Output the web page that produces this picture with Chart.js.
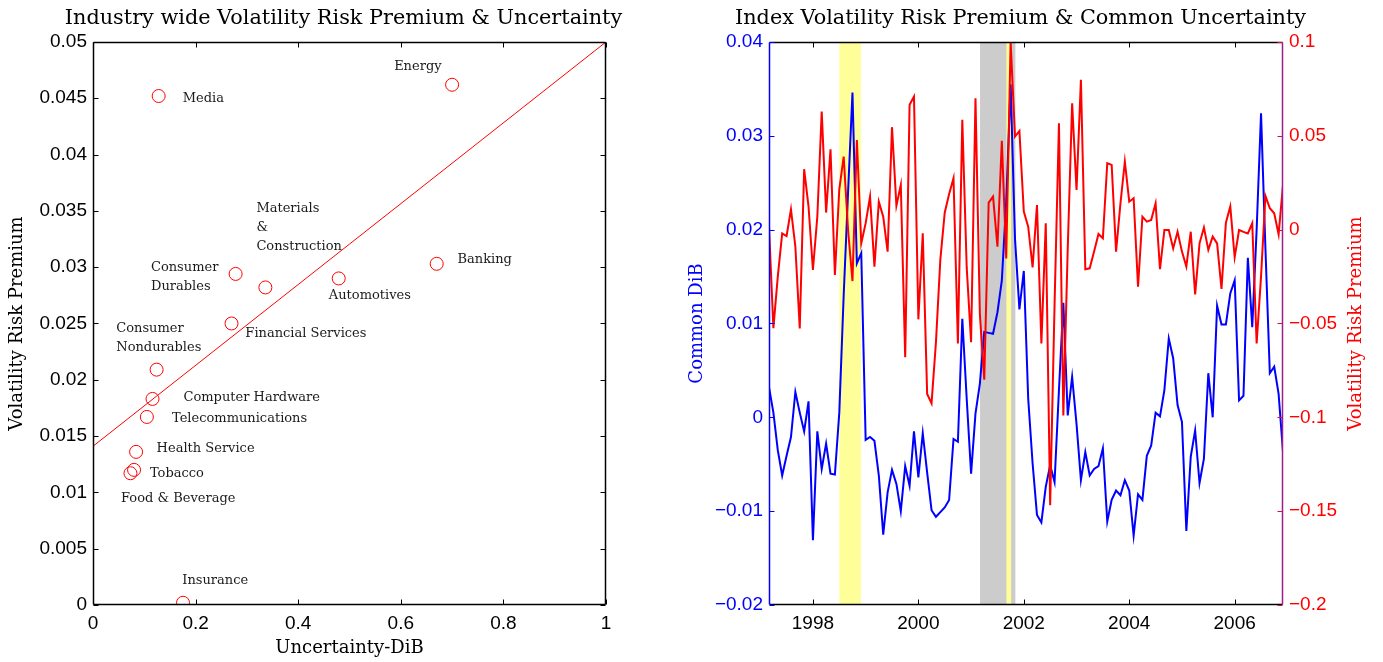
<!DOCTYPE html>
<html>
<head>
<meta charset="utf-8">
<script src="https://cdn.jsdelivr.net/npm/chart.js@4.4.1/dist/chart.umd.min.js"></script>
<style>
  html, body { margin: 0; padding: 0; background: #fff; }
  #wrap { position: relative; width: 1383px; height: 662px; }
  canvas { position: absolute; top: 0; }
  #left { left: 0; }
  #right { left: 680px; }
</style>
</head>
<body>
<div id="wrap">
  <canvas id="left" width="690" height="662"></canvas>
  <canvas id="right" width="703" height="662"></canvas>
</div>
<script>
// ---- left panel: one point per industry ----
var industries = ['Media', 'Energy', 'Materials\n&\nConstruction', 'Consumer\nDurables', 'Automotives',
  'Banking', 'Financial Services', 'Consumer\nNondurables', 'Computer Hardware', 'Telecommunications',
  'Health Service', 'Tobacco', 'Food & Beverage', 'Insurance'];
var uncertaintyDiB = [0.128, 0.700, 0.336, 0.278, 0.479, 0.670, 0.270, 0.124, 0.116, 0.105, 0.084, 0.080, 0.073, 0.1755];
var volRiskPremium = [0.0452, 0.0462, 0.0282, 0.0294, 0.0290, 0.0303, 0.0250, 0.0209, 0.0183, 0.0167, 0.0136, 0.0120, 0.0117, 0.0002];
// fitted line end points
var fitX = [0, 1];
var fitY = [0.0141, 0.0500];
// where each industry name is written (data units, left / middle of first line)
var labelX = [0.175, 0.587, 0.3185, 0.113, 0.4597, 0.7105, 0.297, 0.0454, 0.1764, 0.154, 0.124, 0.111, 0.0546, 0.174];
var labelY = [0.0450, 0.0478, 0.03517, 0.0300, 0.0275, 0.0307, 0.0241, 0.0245, 0.01845, 0.01659, 0.0139, 0.01167, 0.00948, 0.00214];

var leftXTicks = [0, 0.2, 0.4, 0.6, 0.8, 1];
var leftXLabels = ['0', '0.2', '0.4', '0.6', '0.8', '1'];
var leftYTicks = [0, 0.005, 0.01, 0.015, 0.02, 0.025, 0.03, 0.035, 0.04, 0.045, 0.05];
var leftYLabels = ['0', '0.005', '0.01', '0.015', '0.02', '0.025', '0.03', '0.035', '0.04', '0.045', '0.05'];

// ---- right panel: monthly, Mar 1997 - Dec 2006 ----
var startYear = 1997, startMonth = 3;
var commonDiB = [
  0.0032, 0.0005, -0.0035, -0.0062, -0.0041, -0.0021, 0.0027, 0.0005, -0.0015, 0.0017,
  -0.0131, -0.0015, -0.0055, -0.0028, -0.0060, -0.0061, 0.0005, 0.0130, 0.0240, 0.0346,
  0.0164, 0.0175, -0.0024, -0.0021, -0.0025, -0.0062, -0.0125, -0.0080, -0.0056, -0.0071,
  -0.0100, -0.0052, -0.0073, -0.0015, -0.0064, -0.0017, -0.0059, -0.0099, -0.0106, -0.0101,
  -0.0096, -0.0088, -0.0023, -0.0026, 0.0105, 0.0020, -0.0060, 0.0004, 0.0036, 0.0091,
  0.0090, 0.0089, 0.0112, 0.0146, 0.0230, 0.0355, 0.0190, 0.0115, 0.0156, 0.0020,
  -0.0049, -0.0104, -0.0112, -0.0074, -0.0051, -0.0069, 0.0029, 0.0122, 0.0002, 0.0043,
  -0.0007, -0.0067, -0.0037, -0.0062, -0.0055, -0.0052, -0.0033, -0.0111, -0.0088, -0.0078,
  -0.0083, -0.0067, -0.0078, -0.0126, -0.0082, -0.0088, -0.0041, -0.0030, 0.0005, 0.0001,
  0.0029, 0.0084, 0.0063, 0.0013, -0.0005, -0.0121, -0.0042, -0.0014, -0.0070, -0.0044,
  0.0047, 0.0000, 0.0119, 0.0099, 0.0099, 0.0132, 0.0146, 0.0018, 0.0023, 0.0170,
  0.0096, 0.0200, 0.0324, 0.0180, 0.0047, 0.0054, 0.0025, -0.0037
];
var indexVRP = [
  0.0016, -0.0525, -0.0250, -0.0020, -0.0034, 0.0108, -0.0090, -0.0526, 0.0322, 0.0123,
  -0.0215, 0.0069, 0.0629, 0.0091, 0.0428, -0.0242, 0.0215, 0.0389, -0.0002, -0.0274,
  0.0478, -0.0073, 0.0034, 0.0176, -0.0197, 0.0149, 0.0069, -0.0117, 0.0546, 0.0128,
  0.0238, -0.0680, 0.0665, 0.0709, -0.0478, -0.0020, -0.0876, -0.0926, -0.0600, -0.0160,
  0.0090, 0.0190, 0.0274, -0.0606, 0.0585, -0.0200, -0.0600, 0.0700, -0.0450, -0.0800,
  0.0144, 0.0176, -0.0091, 0.0473, -0.0153, 0.1000, 0.0496, 0.0526, 0.0096, 0.0016,
  -0.0201, 0.0131, -0.0606, 0.0034, -0.1468, -0.0400, 0.0567, -0.0990, -0.0100, 0.0673,
  0.0211, 0.0798, -0.0211, -0.0206, -0.0117, -0.0023, -0.0046, 0.0354, 0.0345, -0.0117,
  0.0140, 0.0363, 0.0149, 0.0167, -0.0304, 0.0069, 0.0043, 0.0052, 0.0140, -0.0211,
  -0.0002, -0.0002, -0.0100, -0.0011, -0.0117, -0.0197, -0.0011, -0.0345, -0.0073, 0.0011,
  -0.0108, -0.0037, -0.0073, -0.0316, 0.0037, 0.0123, -0.0147, -0.0002, -0.0012, -0.0020,
  0.0034, -0.0606, -0.0250, 0.0180, 0.0114, 0.0087, -0.0025, 0.0238
];
var months = commonDiB.map(function (_, i) { return startYear + (startMonth - 1 + i) / 12; });

// shaded periods (decimal years)
var shadeStart = [1998.50, 2001.17, 2001.67];
var shadeEnd = [1998.91, 2001.84, 2001.76];
var shadeColors = ['#ffff99', '#cccccc', '#ffff99'];

var yearTicks = [1998, 2000, 2002, 2004, 2006];
var yearLabels = ['1998', '2000', '2002', '2004', '2006'];
var dibTicks = [-0.02, -0.01, 0, 0.01, 0.02, 0.03, 0.04];
var dibLabels = ['\u22120.02', '\u22120.01', '0', '0.01', '0.02', '0.03', '0.04'];
var vrpTicks = [-0.2, -0.15, -0.1, -0.05, 0, 0.05, 0.1];
var vrpLabels = ['\u22120.2', '\u22120.15', '\u22120.1', '\u22120.05', '0', '0.05', '0.1'];

var serif = 'DejaVu Serif';
var sans = 'Liberation Sans';

function setTicks(values) {
  return function (scale) { scale.ticks = values.map(function (v) { return { value: v }; }); };
}
function labelsFrom(labels) {
  return function (value, index) { return labels[index]; };
}

// box round the plot with inward tick marks (MATLAB style)
var frame = {
  id: 'frame',
  afterDraw: function (chart, args, opts) {
    var ctx = chart.ctx, a = chart.chartArea, len = 5;
    var L = Math.round(a.left) + 0.5, R = Math.round(a.right) - 0.5;
    var T = Math.round(a.top) + 0.5, B = Math.round(a.bottom) - 0.5;
    ctx.save();
    opts.sides.forEach(function (s) {
      ctx.strokeStyle = s.color;
      ctx.lineWidth = 1;
      ctx.beginPath();
      if (s.scale) {
        var sc = chart.scales[s.scale];
        sc.ticks.forEach(function (t) {
          var p = Math.round(sc.getPixelForValue(t.value)) + 0.5;
          if (s.edge === 'bottom') { ctx.moveTo(p, B); ctx.lineTo(p, B - len); }
          if (s.edge === 'top') { ctx.moveTo(p, T); ctx.lineTo(p, T + len); }
          if (s.edge === 'left') { ctx.moveTo(L, p); ctx.lineTo(L + len, p); }
          if (s.edge === 'right') { ctx.moveTo(R, p); ctx.lineTo(R - len, p); }
        });
      }
      ctx.stroke();
      ctx.strokeStyle = s.spine || s.color;
      ctx.lineWidth = 1.5;
      ctx.beginPath();
      if (s.edge === 'bottom') { ctx.moveTo(L, B); ctx.lineTo(R, B); }
      if (s.edge === 'top') { ctx.moveTo(L, T); ctx.lineTo(R, T); }
      if (s.edge === 'left') { ctx.moveTo(L, T); ctx.lineTo(L, B); }
      if (s.edge === 'right') { ctx.moveTo(R, T); ctx.lineTo(R, B); }
      ctx.stroke();
    });
    ctx.restore();
  }
};

var industryLabels = {
  id: 'industryLabels',
  afterDatasetsDraw: function (chart) {
    var ctx = chart.ctx, x = chart.scales.x, y = chart.scales.y;
    ctx.save();
    ctx.font = '13px "' + serif + '"';
    ctx.fillStyle = '#1a1a1a';
    ctx.textAlign = 'left';
    ctx.textBaseline = 'middle';
    industries.forEach(function (name, i) {
      var px = x.getPixelForValue(labelX[i]), py = y.getPixelForValue(labelY[i]);
      name.split('\n').forEach(function (line, k) { ctx.fillText(line, px, py + k * 19); });
    });
    ctx.restore();
  }
};

var shading = {
  id: 'shading',
  beforeDatasetsDraw: function (chart) {
    var ctx = chart.ctx, x = chart.scales.x, a = chart.chartArea;
    ctx.save();
    shadeStart.forEach(function (s, i) {
      var x0 = x.getPixelForValue(s), x1 = x.getPixelForValue(shadeEnd[i]);
      ctx.fillStyle = shadeColors[i];
      ctx.fillRect(x0, a.top, x1 - x0, a.bottom - a.top);
    });
    ctx.restore();
  }
};

// right-hand axis title reads bottom-to-top like the left one
var rightTitle = {
  id: 'rightTitle',
  afterDraw: function (chart) {
    var ctx = chart.ctx, s = chart.scales.y1, a = chart.chartArea;
    ctx.save();
    ctx.translate(s.right - 5, (a.top + a.bottom) / 2);
    ctx.rotate(-Math.PI / 2);
    ctx.font = '18px "' + serif + '"';
    ctx.fillStyle = '#ff0000';
    ctx.textAlign = 'center';
    ctx.textBaseline = 'middle';
    ctx.fillText('Volatility Risk Premium', 0, 0);
    ctx.restore();
  }
};

var noGrid = { display: false, drawTicks: false };
var noBorder = { display: false };

new Chart(document.getElementById('left'), {
  type: 'scatter',
  data: {
    datasets: [{
      data: fitX.map(function (x, i) { return { x: x, y: fitY[i] }; }),
      showLine: true,
      borderColor: '#ff0000',
      borderWidth: 1,
      pointRadius: 0,
      yAxisID: 'y'
    }, {
      data: uncertaintyDiB.map(function (x, i) { return { x: x, y: volRiskPremium[i] }; }),
      pointStyle: 'circle',
      pointRadius: 6.5,
      borderColor: '#ff0000',
      backgroundColor: 'rgba(0,0,0,0)',
      borderWidth: 1,
      yAxisID: 'y'
    }]
  },
  options: {
    responsive: false,
    animation: false,
    devicePixelRatio: 1,
    layout: { padding: { left: 0, right: 3, top: 0, bottom: 0 } },
    plugins: {
      legend: { display: false },
      tooltip: { enabled: false },
      frame: { sides: [
        { edge: 'bottom', scale: 'x', color: '#000' },
        { edge: 'top', scale: 'x', color: '#000' },
        { edge: 'left', scale: 'y', color: '#000' },
        { edge: 'right', scale: 'y', color: '#000' }
      ] },
      title: {
        display: true,
        text: 'Industry wide Volatility Risk Premium & Uncertainty',
        color: '#000',
        font: { family: serif, size: 20.8, weight: 'normal' },
        padding: { top: 6, bottom: 11 }
      }
    },
    scales: {
      x: {
        type: 'linear', min: 0, max: 1,
        afterBuildTicks: setTicks(leftXTicks),
        afterFit: function (s) { s.height = 57; },
        grid: noGrid, border: noBorder,
        ticks: { callback: labelsFrom(leftXLabels), autoSkip: false, maxRotation: 0, padding: 7,
          color: '#000', font: { family: sans, size: 19 } },
        title: { display: true, text: 'Uncertainty-DiB', color: '#000',
          font: { family: serif, size: 18 }, padding: { top: 0, bottom: 3 } }
      },
      y: {
        type: 'linear', position: 'left', min: 0, max: 0.05,
        afterBuildTicks: setTicks(leftYTicks),
        afterFit: function (s) { s.width = 93; },
        grid: noGrid, border: noBorder,
        ticks: { callback: labelsFrom(leftYLabels), autoSkip: false, padding: 6,
          color: '#000', font: { family: sans, size: 19 } },
        title: { display: true, text: 'Volatility Risk Premium', color: '#000',
          font: { family: serif, size: 18 }, padding: { top: 7, bottom: 0 } }
      },
      yR: {
        type: 'linear', position: 'right', min: 0, max: 0.05,
        afterFit: function (s) { s.width = 81; },
        grid: noGrid, border: noBorder,
        ticks: { display: false }
      }
    }
  },
  plugins: [industryLabels, frame]
});

new Chart(document.getElementById('right'), {
  type: 'line',
  data: {
    datasets: [{
      label: 'Volatility Risk Premium',
      data: months.map(function (m, i) { return { x: m, y: indexVRP[i] }; }),
      borderColor: '#ff0000',
      borderWidth: 2,
      pointRadius: 0,
      tension: 0,
      yAxisID: 'y1',
      order: 0
    }, {
      label: 'Common DiB',
      data: months.map(function (m, i) { return { x: m, y: commonDiB[i] }; }),
      borderColor: '#0000ff',
      borderWidth: 2,
      pointRadius: 0,
      tension: 0,
      yAxisID: 'y',
      order: 1
    }]
  },
  options: {
    responsive: false,
    animation: false,
    devicePixelRatio: 1,
    layout: { padding: { left: 0, right: 22, top: 0, bottom: 0 } },
    plugins: {
      legend: { display: false },
      tooltip: { enabled: false },
      frame: { sides: [
        { edge: 'bottom', scale: 'x', color: '#000' },
        { edge: 'top', scale: 'x', color: '#000' },
        { edge: 'left', scale: 'y', color: '#0000ff' },
        { edge: 'right', scale: 'y1', color: '#d4103c', spine: '#9a1f8a' }
      ] },
      title: {
        display: true,
        text: 'Index Volatility Risk Premium & Common Uncertainty',
        color: '#000',
        font: { family: serif, size: 20.8, weight: 'normal' },
        padding: { top: 6, bottom: 11 }
      }
    },
    scales: {
      x: {
        type: 'linear', min: months[0], max: months[months.length - 1],
        afterBuildTicks: setTicks(yearTicks),
        afterFit: function (s) { s.height = 57; },
        grid: noGrid, border: noBorder,
        ticks: { callback: labelsFrom(yearLabels), autoSkip: false, maxRotation: 0, padding: 7,
          color: '#000', font: { family: sans, size: 19 } }
      },
      y: {
        type: 'linear', position: 'left', min: -0.02, max: 0.04,
        afterBuildTicks: setTicks(dibTicks),
        afterFit: function (s) { s.width = 89; },
        grid: noGrid, border: noBorder,
        ticks: { callback: labelsFrom(dibLabels), autoSkip: false, padding: 6,
          color: '#0000ff', font: { family: sans, size: 19 } },
        title: { display: true, text: 'Common DiB', color: '#0000ff',
          font: { family: serif, size: 18 }, padding: { top: 7, bottom: 0 } }
      },
      y1: {
        type: 'linear', position: 'right', min: -0.2, max: 0.1,
        afterBuildTicks: setTicks(vrpTicks),
        afterFit: function (s) { s.width = 78; },
        grid: noGrid, border: noBorder,
        ticks: { callback: labelsFrom(vrpLabels), autoSkip: false, padding: 6,
          color: '#ff0000', font: { family: sans, size: 19 } }
      }
    }
  },
  plugins: [shading, frame, rightTitle]
});
</script>
</body>
</html>
